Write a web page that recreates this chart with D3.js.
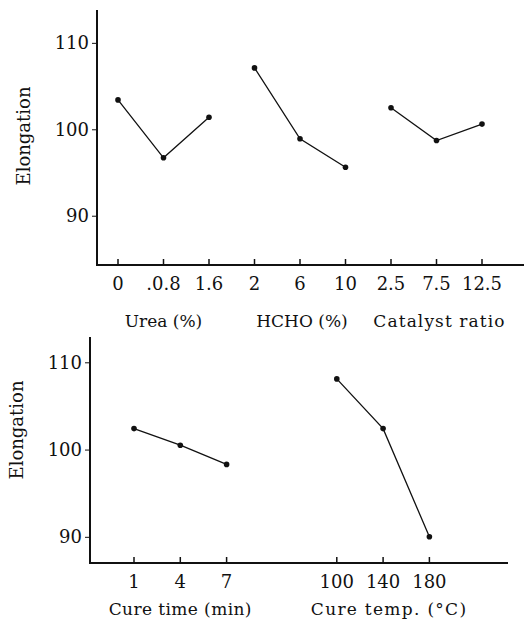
<!DOCTYPE html>
<html><head><meta charset="utf-8">
<script src="https://cdn.jsdelivr.net/npm/d3@7"></script>
<style>body{margin:0;background:#fff}svg{display:block}text{font-family:"DejaVu Serif","Liberation Serif",serif;fill:#111}</style>
</head><body><svg id="c" width="524" height="627"></svg>
<script>
// ---- data ----
const topGroups = ["Urea (%)", "HCHO (%)", "Catalyst ratio"];
const topTickLabels = [["0", ".0.8", "1.6"], ["2", "6", "10"], ["2.5", "7.5", "12.5"]];
const topValues = [[103.4, 96.7, 101.4], [107.1, 98.9, 95.6], [102.5, 98.7, 100.6]];
const bottomGroups = ["Cure time (min)", "Cure temp. (°C)"];
const bottomTickLabels = [["1", "4", "7"], ["100", "140", "180"]];
const bottomValues = [[102.4, 100.5, 98.3], [108.1, 102.4, 90.0]];
const yTicks = [90, 100, 110];
const yTitle = "Elongation";

const svg = d3.select("#c");

function panel(cfg) {
  const g = svg.append("g");
  const y = d3.scaleLinear().domain(cfg.yDomain).range([cfg.bottom, cfg.top]);
  // slot index -> x position
  const x = d3.scaleLinear().domain([0, 1]).range([cfg.x0, cfg.x0 + cfg.step]);
  const slots = [];
  cfg.labels.forEach((grp, gi) => grp.forEach((lab, i) => {
    slots.push({ gi, i, lab, val: cfg.values[gi][i], s: gi * (3 + cfg.gap - 1) + i });
  }));
  // y axis
  const yAxis = d3.axisLeft(y).tickValues(yTicks).tickSize(5).tickPadding(3).tickFormat(d3.format("d"));
  const ya = g.append("g").attr("transform", `translate(${cfg.axisX},0)`).call(yAxis);
  ya.select(".domain").remove();
  ya.selectAll("line").attr("stroke", "#111").attr("stroke-width", 1);
  ya.selectAll("text").attr("font-size", 18).attr("fill", "#111");
  g.append("line").attr("x1", cfg.axisX).attr("x2", cfg.axisX)
    .attr("y1", cfg.top).attr("y2", cfg.bottom + 1)
    .attr("stroke", "#111").attr("stroke-width", 2);
  // x axis
  g.append("line").attr("x1", cfg.axisX - 1).attr("x2", cfg.xEnd)
    .attr("y1", cfg.bottom).attr("y2", cfg.bottom).attr("stroke", "#111").attr("stroke-width", 2);
  g.selectAll(".xt").data(slots).join("line")
    .attr("x1", d => x(d.s)).attr("x2", d => x(d.s))
    .attr("y1", cfg.bottom).attr("y2", cfg.bottom - 6).attr("stroke", "#111").attr("stroke-width", 1.5);
  g.selectAll(".xl").data(slots).join("text")
    .attr("x", d => x(d.s)).attr("y", cfg.bottom + cfg.tickLabelDy)
    .attr("text-anchor", "middle").attr("font-size", 18).text(d => d.lab);
  // group titles
  cfg.groups.forEach((name, gi) => {
    g.append("text").attr("x", x(gi * (3 + cfg.gap - 1) + 1) + (cfg.titleShift[gi] || 0))
      .attr("y", cfg.titleY).attr("text-anchor", "middle").attr("font-size", 17)
      .attr("letter-spacing", cfg.titleSpacing[gi] || 0).text(name);
  });
  // lines + points
  const line = d3.line().x(d => x(d.s)).y(d => y(d.val));
  cfg.values.forEach((vals, gi) => {
    const pts = slots.filter(d => d.gi === gi);
    g.append("path").attr("d", line(pts)).attr("fill", "none").attr("stroke", "#111").attr("stroke-width", 1.3);
    g.selectAll(null).data(pts).join("circle").attr("cx", d => x(d.s)).attr("cy", d => y(d.val))
      .attr("r", 2.8).attr("fill", "#111");
  });
  // y title
  g.append("text").attr("transform", `translate(${cfg.yTitleX},${cfg.yTitleY}) rotate(-90)`)
    .attr("text-anchor", "middle").attr("font-size", 18).text(yTitle);
}

panel({
  labels: topTickLabels, values: topValues, groups: topGroups,
  yDomain: [84.3, 113.8], top: 10, bottom: 265,
  axisX: 97, xEnd: 524, x0: 118, step: 45.5, gap: 1,
  tickLabelDy: 25, titleY: 327, titleShift: [0, 2, 3], titleSpacing: [0, 0, 1.1],
  yTitleX: 30, yTitleY: 136
});
panel({
  labels: bottomTickLabels, values: bottomValues, groups: bottomGroups,
  yDomain: [87.0, 112.9], top: 337, bottom: 563,
  axisX: 90, xEnd: 508, x0: 134, step: 46.3, gap: 2.38,
  tickLabelDy: 25, titleY: 615, titleShift: [0, 6], titleSpacing: [0.4, 1.3],
  yTitleX: 23, yTitleY: 430
});
</script></body></html>
